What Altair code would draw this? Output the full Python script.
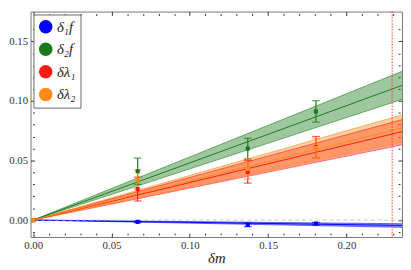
import altair as alt
import pandas as pd

# ---- data ----
series = ["δ₁f", "δ₂f", "δλ₁", "δλ₂"]
colors = ["#0000ff", "#1a7a1a", "#ff1a1a", "#ff8c1a"]

x_pts = [0.0, 0.0667, 0.137, 0.1805]
d1f = [0.0, -0.0015, -0.0040, -0.0030]
d1f_err = [0.0, 0.0006, 0.0015, 0.0010]
d2f = [0.0, 0.0410, 0.0600, 0.0912]
d2f_err = [0.0, 0.0110, 0.0087, 0.0090]
dl1 = [0.0, 0.0260, 0.0405, 0.0612]
dl1_err = [0.0, 0.0100, 0.0095, 0.0090]
dl2 = [0.0, 0.0340, 0.0430, 0.0605]
dl2_err = [0.0, 0.0080, 0.0085, 0.0082]

# fitted slopes (lower, central, upper)
slope_lo = [-0.026, 0.430, 0.268, 0.278]
slope_c = [-0.019, 0.480, 0.315, 0.328]
slope_hi = [-0.013, 0.530, 0.358, 0.375]

x_line = [0.0, 0.2355]
x_domain = [-0.0017, 0.2355]
y_domain = [-0.0142, 0.175]
x_cut = 0.2292

x_ticks = [round(i * 0.01, 2) for i in range(0, 24)]
y_ticks = [round(-0.01 + i * 0.01, 2) for i in range(0, 18)]
major_labels = ["0.00", "0.05", "0.10", "0.15", "0.20"]

SERIF = "Liberation Serif"

# ---- tables ----
vals = [d1f, d2f, dl1, dl2]
errs = [d1f_err, d2f_err, dl1_err, dl2_err]
pts_rows = []
for s, v, e in zip(series, vals, errs):
    for x, y, er in zip(x_pts, v, e):
        pts_rows.append({"s": s, "x": x, "y": y, "lo": y - er, "hi": y + er, "e": er})
pts = pd.DataFrame(pts_rows)
err_df = pts[pts["e"] > 0]

band_rows = []
for s, lo, c, hi in zip(series, slope_lo, slope_c, slope_hi):
    for x in x_line:
        band_rows.append({"s": s, "x": x, "lo": lo * x, "c": c * x, "hi": hi * x})
bands = pd.DataFrame(band_rows)

xs = alt.Scale(domain=x_domain, nice=False, zero=False)
ys = alt.Scale(domain=y_domain, nice=False, zero=False)
cs = alt.Scale(domain=series, range=colors)

lab_expr = ("indexof(" + str(major_labels).replace('"', "'") +
            ", format(datum.value, '.2f')) >= 0 ? format(datum.value, '.2f') : ''")
tick_size = {"condition": {"test": "round(datum.value*100) % 5 == 0", "value": 4}, "value": 2}

axis_common = dict(grid=False, tickSize=tick_size, labelOverlap=False, labelExpr=lab_expr,
                   labelFont=SERIF, labelFontSize=11, labelColor="#333", domain=False,
                   tickColor="#333", labelPadding=3, offset=-4)
Xax = alt.Axis(values=x_ticks, title="δm", titleFont=SERIF, titleFontSize=15,
               titleFontStyle="italic", titleFontWeight="normal", titleColor="#222",
               titlePadding=0, **axis_common)
Yax = alt.Axis(values=y_ticks, title=None, **axis_common)

leg = alt.Legend(title=None, orient="top-left", symbolType="circle",
                 symbolSize=190, symbolOpacity=1, symbolStrokeWidth=0,
                 labelFont=SERIF, labelFontStyle="italic",
                 labelFontSize=15, labelColor="#222",
                 rowPadding=7, padding=5, offset=3,
                 strokeColor="#666", fillColor="white")
C = alt.Color("s:N", scale=cs, sort=series, legend=leg)


def X(f):
    return alt.X(f, scale=xs, axis=Xax, title="δm")


def Y(f):
    return alt.Y(f, scale=ys, axis=Yax, title=None)


base_b = alt.Chart(bands)
area = base_b.mark_area(opacity=0.42, clip=True).encode(
    x=X("x:Q"), y=Y("lo:Q"), y2="hi:Q", color=C,
)
edges = base_b.transform_fold(["lo", "hi"], as_=["k", "v"]).mark_line(
    strokeWidth=0.7, opacity=0.8, clip=True).encode(
    x=X("x:Q"), y=Y("v:Q"), detail="k:N", color=C,
)
center = base_b.mark_line(strokeWidth=1.0, clip=True).encode(
    x=X("x:Q"), y=Y("c:Q"), color=C,
)

zero = alt.Chart(pd.DataFrame({"v": [0.0]})).mark_rule(
    color="#bbbbbb", strokeDash=[4, 3], strokeWidth=0.8).encode(y=Y("v:Q"))
cut = alt.Chart(pd.DataFrame({"v": [x_cut]})).mark_rule(
    color="#ff3333", strokeDash=[1.5, 1.5], strokeWidth=1).encode(x=X("v:Q"))

base_e = alt.Chart(err_df)
ebar = base_e.mark_rule(strokeWidth=1.2).encode(
    x=X("x:Q"), y=Y("lo:Q"), y2="hi:Q", color=C,
)
caps = base_e.transform_fold(["lo", "hi"], as_=["k", "v"]).mark_tick(
    thickness=1.2, size=8, orient="horizontal").encode(
    x=X("x:Q"), y=Y("v:Q"), color=C,
)
points = alt.Chart(pts).mark_point(filled=True, shape="square", size=18, opacity=1).encode(
    x=X("x:Q"), y=Y("y:Q"), color=C,
)

main = alt.layer(area, edges, center, zero, cut, ebar, caps, points)

mirror_axis = dict(grid=False, tickSize=tick_size, labels=False, domain=False,
                   tickColor="#333", offset=-4, title=None)
mirror = alt.Chart(pts).mark_point(opacity=0).encode(
    x=alt.X("x:Q", scale=xs, axis=alt.Axis(orient="top", values=x_ticks, **mirror_axis)),
    y=alt.Y("y:Q", scale=ys, axis=alt.Axis(orient="right", values=y_ticks, **mirror_axis)),
)

chart = alt.layer(main, mirror).resolve_axis(x="independent", y="independent").properties(
    width=403, height=260,
    autosize=alt.AutoSizeParams(type="fit", contains="padding"),
    padding={"left": 0, "top": 0, "right": 0, "bottom": 0},
).configure_view(stroke="#777", strokeWidth=1)

chart.save("out.html", embed_options={"renderer": "svg", "actions": False})
